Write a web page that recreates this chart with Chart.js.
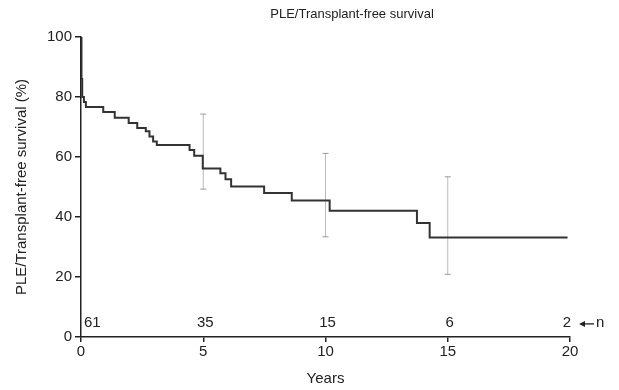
<!DOCTYPE html>
<html><head><meta charset="utf-8">
<script src="https://cdn.jsdelivr.net/npm/chart.js@4"></script>
<style>html,body{margin:0;padding:0;background:#fff}</style>
</head><body>
<canvas id="c" width="619" height="390" style="width:619px;height:390px;display:block"></canvas>
<script>
const chartTitle = 'PLE/Transplant-free survival';
const yTitle = 'PLE/Transplant-free survival (%)';
const xTitle = 'Years';
const times    = [0, 0.02, 0.05, 0.12, 0.2, 0.91, 1.38, 1.95, 2.3, 2.65, 2.8, 2.95, 3.1, 4.44, 4.63, 4.98, 5.7, 5.91, 6.14, 7.49, 8.62, 10.17, 13.74, 14.26, 19.9];
const survival = [100, 86, 80, 78.3, 76.7, 75, 73.1, 71.3, 69.7, 68.6, 66.8, 65.2, 64.0, 62.3, 60.4, 56.2, 54.6, 52.6, 50.2, 48.0, 45.5, 42.1, 38.0, 33.2, 33.2];
const ciX     = [5, 10, 15];
const ciUpper = [74.3, 61.2, 53.4];
const ciLower = [49.3, 33.4, 20.9];
const riskX = [0, 5, 10, 15, 20];
const riskN = ['61', '35', '15', '6', '2'];
const riskLevel = 4.7;
const xTicks = [0, 5, 10, 15, 20];
const yTicks = [0, 20, 40, 60, 80, 100];

const FONT = "'Liberation Sans', Arial, sans-serif";
const TXT = '#222';

const datasets = [{
  data: times.map((t, i) => ({x: t, y: survival[i]})),
  stepped: 'before',
  borderColor: '#333',
  borderWidth: 2,
  pointRadius: 0,
  fill: false,
  order: 0
}];
ciX.forEach((x, i) => {
  datasets.push({
    data: [{x: x, y: ciLower[i]}, {x: x, y: ciUpper[i]}],
    borderColor: '#bbb',
    borderWidth: 1,
    pointStyle: 'line',
    pointRadius: 3,
    pointBorderColor: '#999',
    pointBorderWidth: 1,
    fill: false,
    order: 1
  });
});

const overlay = {
  id: 'overlay',
  afterDraw(chart) {
    const ctx = chart.ctx, xs = chart.scales.x, ys = chart.scales.y;
    ctx.save();
    ctx.fillStyle = TXT;
    ctx.font = '13px ' + FONT;
    ctx.textAlign = 'center';
    ctx.textBaseline = 'middle';
    ctx.fillText(chartTitle, 352, 14);
    ctx.font = '15px ' + FONT;
    const yy = ys.getPixelForValue(riskLevel);
    riskX.forEach((x, i) => {
      const px = xs.getPixelForValue(x);
      if (i === 0) { ctx.textAlign = 'left'; ctx.fillText(riskN[i], px + 3, yy); }
      else if (i === riskX.length - 1) { ctx.textAlign = 'right'; ctx.fillText(riskN[i], px + 1, yy); }
      else { ctx.textAlign = 'center'; ctx.fillText(riskN[i], px + 2, yy); }
    });
    const ax = xs.getPixelForValue(20);
    ctx.strokeStyle = TXT; ctx.lineWidth = 1.3;
    ctx.beginPath(); ctx.moveTo(ax + 12, yy + 1); ctx.lineTo(ax + 24, yy + 1); ctx.stroke();
    ctx.beginPath(); ctx.moveTo(ax + 9, yy + 1); ctx.lineTo(ax + 15, yy - 2); ctx.lineTo(ax + 15, yy + 4); ctx.closePath(); ctx.fill();
    ctx.textAlign = 'left';
    ctx.fillText('n', ax + 26, yy);
    ctx.restore();
  }
};

new Chart(document.getElementById('c'), {
  type: 'line',
  data: {datasets},
  options: {
    responsive: false,
    animation: false,
    events: [],
    layout: {padding: {left: 0, right: 49, top: 37, bottom: 0}},
    plugins: {legend: {display: false}, tooltip: {enabled: false}, title: {display: false}},
    scales: {
      x: {
        type: 'linear', min: 0, max: 20,
        afterFit(s) { s.height = 53; },
        afterBuildTicks(s) { s.ticks = xTicks.map(v => ({value: v})); },
        grid: {drawOnChartArea: false, drawTicks: true, tickLength: 5, color: TXT, lineWidth: 1.5},
        border: {display: true, color: TXT, width: 1.5},
        ticks: {color: TXT, font: {family: FONT, size: 15}, padding: 1, maxRotation: 0},
        title: {display: true, text: xTitle, color: TXT, font: {family: FONT, size: 15}, padding: {top: 0, bottom: 2}}
      },
      y: {
        type: 'linear', min: 0, max: 100,
        afterFit(s) { s.width = 81; },
        afterBuildTicks(s) { s.ticks = yTicks.map(v => ({value: v})); },
        grid: {drawOnChartArea: false, drawTicks: true, tickLength: 6, color: TXT, lineWidth: 1.5},
        border: {display: true, color: TXT, width: 1.5},
        ticks: {color: TXT, font: {family: FONT, size: 15}, padding: 3},
        title: {display: true, text: yTitle, color: TXT, font: {family: FONT, size: 15}, padding: {top: 13, bottom: 0}}
      }
    }
  },
  plugins: [overlay]
});
</script>
</body></html>
